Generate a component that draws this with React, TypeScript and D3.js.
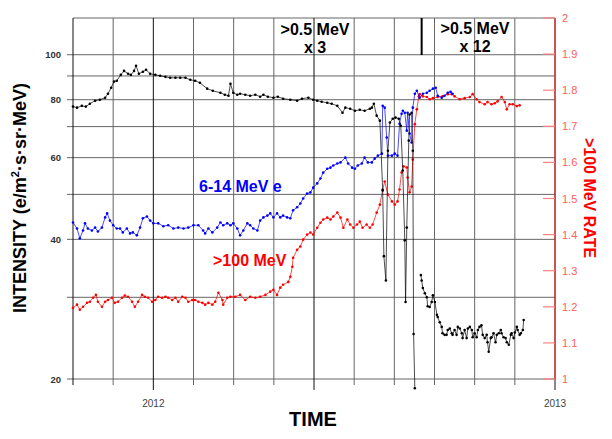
import React from "react";
import * as d3 from "d3";

// [decimal year, value]
const blackEarly: [number, number][] = [
  [2011.8, 77.3], [2011.81, 76.9], [2011.822, 77.6], [2011.832, 77.3], [2011.842, 78.4],
  [2011.855, 79.6], [2011.867, 80.0], [2011.88, 80.8], [2011.887, 82.4], [2011.895, 84.9],
  [2011.902, 87.5], [2011.909, 87.9], [2011.919, 90.5], [2011.927, 92.3], [2011.937, 91.0],
  [2011.944, 90.5], [2011.952, 92.3], [2011.957, 94.7], [2011.964, 91.0], [2011.974, 91.9],
  [2011.982, 92.8], [2011.992, 91.0], [2012.005, 90.5], [2012.017, 90.1], [2012.03, 89.6],
  [2012.042, 89.2], [2012.055, 89.2], [2012.067, 89.2], [2012.08, 89.2], [2012.092, 88.3],
  [2012.104, 87.9], [2012.116, 87.0], [2012.134, 84.5], [2012.148, 83.6], [2012.167, 82.8],
  [2012.178, 82.0], [2012.187, 81.6], [2012.192, 86.6], [2012.199, 82.8], [2012.209, 82.0],
  [2012.216, 82.4], [2012.229, 82.0], [2012.241, 81.6], [2012.254, 82.0], [2012.266, 81.2],
  [2012.274, 82.0], [2012.285, 81.2], [2012.299, 80.8], [2012.31, 81.2], [2012.323, 80.4],
  [2012.341, 80.0], [2012.358, 79.6], [2012.37, 80.4], [2012.386, 80.8], [2012.398, 80.0],
  [2012.408, 79.6], [2012.419, 79.2], [2012.433, 78.8], [2012.444, 78.4], [2012.458, 77.6],
  [2012.471, 75.0], [2012.478, 76.9], [2012.49, 76.5], [2012.502, 75.7], [2012.514, 76.1],
  [2012.526, 75.7], [2012.539, 76.5], [2012.544, 76.9], [2012.549, 78.4], [2012.556, 73.9],
  [2012.564, 72.1], [2012.571, 51.0], [2012.574, 36.8], [2012.579, 32.6], [2012.584, 62.1],
  [2012.589, 71.4], [2012.596, 72.8], [2012.603, 73.2], [2012.611, 72.8], [2012.616, 70.3],
  [2012.621, 56.3], [2012.626, 39.8], [2012.628, 29.3], [2012.631, 42.4], [2012.636, 65.3],
  [2012.638, 74.3], [2012.643, 75.0], [2012.646, 62.1], [2012.648, 25.0], [2012.651, 19.1],
];

const blackLate: [number, number][] = [
  [2012.666, 33.5], [2012.668, 32.6], [2012.671, 31.4], [2012.676, 30.6], [2012.681, 30.0],
  [2012.683, 28.7], [2012.688, 28.6], [2012.693, 29.3], [2012.696, 30.3], [2012.701, 29.3],
  [2012.706, 27.5], [2012.708, 27.2], [2012.713, 26.5], [2012.718, 25.9], [2012.72, 25.1],
  [2012.725, 24.9], [2012.73, 24.9], [2012.733, 25.5], [2012.738, 25.7], [2012.743, 25.1],
  [2012.745, 24.9], [2012.75, 25.5], [2012.755, 24.9], [2012.758, 25.9], [2012.763, 25.7],
  [2012.768, 25.1], [2012.77, 24.5], [2012.775, 25.5], [2012.78, 24.5], [2012.783, 25.7],
  [2012.788, 25.9], [2012.793, 25.5], [2012.795, 24.6], [2012.8, 25.1], [2012.805, 24.6],
  [2012.808, 25.5], [2012.812, 25.9], [2012.817, 26.1], [2012.82, 24.9], [2012.825, 24.5],
  [2012.83, 24.9], [2012.832, 24.0], [2012.835, 22.9], [2012.84, 24.5], [2012.842, 24.6],
  [2012.847, 25.1], [2012.852, 24.0], [2012.855, 24.9], [2012.86, 25.1], [2012.865, 25.5],
  [2012.867, 25.1], [2012.872, 24.6], [2012.877, 24.5], [2012.88, 24.0], [2012.885, 23.7],
  [2012.89, 24.9], [2012.892, 25.1], [2012.897, 24.5], [2012.9, 25.2], [2012.905, 25.9],
  [2012.907, 25.5], [2012.912, 24.9], [2012.915, 25.1], [2012.92, 25.5], [2012.922, 26.8],
];

const blue: [number, number][] = [
  [2011.8, 43.5], [2011.81, 42.2], [2011.817, 40.2], [2011.825, 41.8], [2011.83, 43.3],
  [2011.837, 42.2], [2011.847, 41.8], [2011.855, 42.4], [2011.862, 41.6], [2011.872, 42.4],
  [2011.88, 44.6], [2011.885, 45.5], [2011.892, 43.9], [2011.9, 42.9], [2011.909, 42.2],
  [2011.917, 42.2], [2011.924, 41.4], [2011.934, 42.2], [2011.942, 41.2], [2011.949, 41.4],
  [2011.959, 40.8], [2011.967, 42.4], [2011.974, 44.4], [2011.984, 44.8], [2011.992, 43.9],
  [2012.0, 43.3], [2012.012, 43.3], [2012.025, 42.7], [2012.037, 42.9], [2012.05, 42.2],
  [2012.062, 42.4], [2012.075, 42.2], [2012.087, 42.4], [2012.1, 42.9], [2012.112, 42.9],
  [2012.124, 41.8], [2012.129, 41.2], [2012.137, 42.2], [2012.147, 41.4], [2012.159, 42.4],
  [2012.167, 43.5], [2012.174, 42.9], [2012.184, 43.3], [2012.192, 42.9], [2012.199, 43.3],
  [2012.209, 42.2], [2012.216, 40.8], [2012.224, 41.8], [2012.234, 43.3], [2012.241, 42.9],
  [2012.249, 42.2], [2012.259, 41.8], [2012.266, 43.9], [2012.274, 44.6], [2012.284, 45.0],
  [2012.291, 45.5], [2012.299, 44.6], [2012.308, 45.5], [2012.316, 44.6], [2012.323, 45.0],
  [2012.333, 44.6], [2012.341, 44.4], [2012.348, 46.2], [2012.358, 46.9], [2012.366, 47.8],
  [2012.373, 49.0], [2012.383, 50.2], [2012.391, 50.5], [2012.398, 51.7], [2012.408, 52.8],
  [2012.416, 54.1], [2012.423, 55.7], [2012.433, 56.8], [2012.441, 57.1], [2012.448, 57.7],
  [2012.458, 58.3], [2012.466, 58.6], [2012.478, 60.0], [2012.485, 58.3], [2012.495, 57.1],
  [2012.502, 56.8], [2012.509, 57.7], [2012.519, 58.3], [2012.526, 60.0], [2012.534, 58.6],
  [2012.544, 58.6], [2012.551, 59.7], [2012.559, 60.6], [2012.569, 61.2], [2012.571, 77.6],
  [2012.576, 76.9], [2012.581, 66.3], [2012.584, 60.6], [2012.594, 60.6], [2012.601, 61.2],
  [2012.608, 60.6], [2012.613, 71.0], [2012.618, 74.6], [2012.621, 75.7], [2012.626, 75.0],
  [2012.631, 68.6], [2012.633, 75.0], [2012.638, 67.6], [2012.643, 64.7], [2012.646, 76.9],
  [2012.651, 82.4], [2012.656, 83.6], [2012.663, 80.8], [2012.671, 82.4], [2012.681, 82.8],
  [2012.688, 83.6], [2012.696, 84.5], [2012.703, 84.9], [2012.708, 81.6], [2012.718, 80.8],
  [2012.725, 81.6], [2012.733, 82.8], [2012.74, 83.2], [2012.745, 82.4],
];

// >100 MeV rate, right axis
const red: [number, number][] = [
  [2011.8, 1.197], [2011.81, 1.206], [2011.817, 1.192], [2011.825, 1.2], [2011.835, 1.211],
  [2011.842, 1.214], [2011.85, 1.225], [2011.857, 1.233], [2011.862, 1.214], [2011.872, 1.2],
  [2011.88, 1.214], [2011.887, 1.219], [2011.897, 1.225], [2011.904, 1.211], [2011.912, 1.214],
  [2011.922, 1.225], [2011.929, 1.231], [2011.937, 1.228], [2011.947, 1.214], [2011.954, 1.2],
  [2011.962, 1.214], [2011.972, 1.233], [2011.979, 1.228], [2011.987, 1.225], [2011.997, 1.214],
  [2012.005, 1.219], [2012.012, 1.228], [2012.022, 1.225], [2012.03, 1.228], [2012.037, 1.225],
  [2012.047, 1.219], [2012.055, 1.225], [2012.062, 1.214], [2012.072, 1.228], [2012.08, 1.225],
  [2012.087, 1.214], [2012.097, 1.219], [2012.104, 1.219], [2012.112, 1.214], [2012.122, 1.211],
  [2012.129, 1.206], [2012.137, 1.211], [2012.147, 1.206], [2012.154, 1.214], [2012.162, 1.239],
  [2012.172, 1.219], [2012.174, 1.206], [2012.184, 1.225], [2012.192, 1.228], [2012.204, 1.228],
  [2012.216, 1.233], [2012.229, 1.219], [2012.241, 1.228], [2012.254, 1.225], [2012.266, 1.228],
  [2012.279, 1.233], [2012.291, 1.242], [2012.299, 1.247], [2012.308, 1.233], [2012.316, 1.253],
  [2012.323, 1.261], [2012.336, 1.269], [2012.341, 1.283], [2012.346, 1.311], [2012.348, 1.336],
  [2012.358, 1.358], [2012.366, 1.367], [2012.373, 1.386], [2012.383, 1.4], [2012.391, 1.406],
  [2012.398, 1.4], [2012.408, 1.419], [2012.416, 1.433], [2012.423, 1.442], [2012.433, 1.447],
  [2012.441, 1.442], [2012.448, 1.45], [2012.458, 1.461], [2012.466, 1.447], [2012.473, 1.419],
  [2012.483, 1.442], [2012.49, 1.428], [2012.498, 1.419], [2012.507, 1.428], [2012.514, 1.436],
  [2012.521, 1.419], [2012.531, 1.428], [2012.539, 1.419], [2012.546, 1.428], [2012.556, 1.461],
  [2012.564, 1.483], [2012.571, 1.525], [2012.576, 1.547], [2012.584, 1.511], [2012.594, 1.492],
  [2012.601, 1.483], [2012.608, 1.492], [2012.613, 1.525], [2012.618, 1.572], [2012.623, 1.589],
  [2012.631, 1.586], [2012.633, 1.558], [2012.638, 1.517], [2012.643, 1.533], [2012.646, 1.608],
  [2012.651, 1.706], [2012.656, 1.747], [2012.661, 1.783], [2012.663, 1.789], [2012.671, 1.783],
  [2012.681, 1.781], [2012.688, 1.775], [2012.696, 1.778], [2012.708, 1.781], [2012.72, 1.783],
  [2012.733, 1.789], [2012.743, 1.789], [2012.75, 1.783], [2012.763, 1.775], [2012.775, 1.778],
  [2012.788, 1.781], [2012.795, 1.789], [2012.805, 1.775], [2012.812, 1.767], [2012.825, 1.761],
  [2012.832, 1.767], [2012.842, 1.761], [2012.85, 1.764], [2012.857, 1.769], [2012.867, 1.781],
  [2012.875, 1.767], [2012.88, 1.747], [2012.887, 1.761], [2012.895, 1.761], [2012.905, 1.756],
  [2012.912, 1.758],
];

const leftTickLabels = [20, 40, 60, 80, 100];
const leftGridValues = [20, 30, 40, 50, 60, 70, 80, 90, 100];
const rightTickValues = [1, 1.1, 1.2, 1.3, 1.4, 1.5, 1.6, 1.7, 1.8, 1.9, 2];
const yearLabels = [2012, 2013];
const majorTimes = [2012, 2012.4, 2013];
const instrumentMarker = 2012.668;

const FONT = "'Liberation Sans', Arial, sans-serif";

export default function App() {
  const left = 73, right = 555, top = 18, bottom = 379;

  const x = d3.scaleLinear().domain([2011.8, 2013]).range([left, right]);
  const yL = d3.scaleLog().domain([20, 120]).range([bottom, top]);
  const yR = d3.scaleLinear().domain([1, 2]).range([bottom, top]);

  const lineL = d3.line<[number, number]>().x((d) => x(d[0])).y((d) => yL(d[1]));
  const lineR = d3.line<[number, number]>().x((d) => x(d[0])).y((d) => yR(d[1]));

  const xTicks = x.ticks(12);
  const isMajor = (t: number) => majorTimes.some((m) => Math.abs(m - t) < 1e-6);

  const series = (data: [number, number][], color: string, right: boolean, key: string) => (
    <g key={key}>
      <path d={(right ? lineR : lineL)(data) || ""} fill="none" stroke={color} strokeWidth={0.7} />
      {data.map((d, i) => (
        <circle key={i} cx={x(d[0])} cy={right ? yR(d[1]) : yL(d[1])} r={1.3} fill={color} />
      ))}
    </g>
  );

  return (
    <svg
      width={612}
      height={439}
      style={{ position: "absolute", left: 0, top: 0, background: "#fff" }}
      fontFamily={FONT}
    >
      {/* horizontal grid (left log axis) */}
      {leftGridValues.map((v) => (
        <line key={v} x1={left - 6} x2={right} y1={yL(v)} y2={yL(v)} stroke="#666" strokeWidth={1} />
      ))}
      <line x1={left} x2={right} y1={top} y2={top} stroke="#666" strokeWidth={1} />

      {/* vertical grid + time ticks */}
      {xTicks.map((t) => (
        <line
          key={t}
          x1={x(t)}
          x2={x(t)}
          y1={top}
          y2={isMajor(t) ? bottom + 11 : bottom + 6}
          stroke={isMajor(t) || t === 2011.8 ? "#111" : "#666"}
          strokeWidth={1}
        />
      ))}

      {/* right axis */}
      <line x1={right} x2={right} y1={top} y2={bottom} stroke="#ff3030" strokeWidth={1.2} />
      {rightTickValues.map((v) => (
        <g key={v}>
          <line x1={right - 12} x2={right} y1={yR(v)} y2={yR(v)} stroke="#ff8080" strokeWidth={1.2} />
          <text x={right + 7} y={yR(v) + 4} fontSize={11} fill="#ff6060">
            {String(+v.toFixed(1))}
          </text>
        </g>
      ))}

      {/* left tick labels */}
      {leftTickLabels.map((v) => (
        <text key={v} x={61} y={yL(v) + 3.5} fontSize={9.5} fontWeight="bold" fill="#333" textAnchor="end">
          {v}
        </text>
      ))}

      {/* year labels */}
      {yearLabels.map((yr) => (
        <text key={yr} x={x(yr)} y={407} fontSize={10} fill="#444" textAnchor="middle">
          {yr}
        </text>
      ))}

      {/* data */}
      {series(red, "#ff0000", true, "red")}
      {series(blue, "#0000ff", false, "blue")}
      {series(blackEarly, "#000", false, "b1")}
      {series(blackLate, "#000", false, "b2")}

      {/* instrument change marker */}
      <line x1={x(instrumentMarker)} x2={x(instrumentMarker)} y1={top} y2={55} stroke="#000" strokeWidth={2} />

      <g fontSize={16} fontWeight="bold" fill="#000" textAnchor="middle">
        <text x={315} y={35}>&gt;0.5 MeV</text>
        <text x={315} y={53}>x 3</text>
        <text x={475} y={34}>&gt;0.5 MeV</text>
        <text x={475} y={52}>x 12</text>
      </g>

      <text x={199} y={192} fontSize={16} fontWeight="bold" fill="#0000ff">6-14 MeV e</text>
      <text x={213} y={266} fontSize={16} fontWeight="bold" fill="#ff0000">&gt;100 MeV</text>

      {/* axis titles */}
      <text transform="translate(26,198) rotate(-90)" fontSize={18} fontWeight="bold" textAnchor="middle">
        INTENSITY (e/m<tspan dy={-7} fontSize={11}>2</tspan>
        <tspan dy={7}>·s·sr·MeV)</tspan>
      </text>
      <text transform="translate(584,198) rotate(90)" fontSize={16} fontWeight="bold" fill="#ff0000" textAnchor="middle">
        &gt;100 MeV RATE
      </text>
      <text x={313} y={426} fontSize={20} fontWeight="bold" textAnchor="middle">TIME</text>
    </svg>
  );
}
